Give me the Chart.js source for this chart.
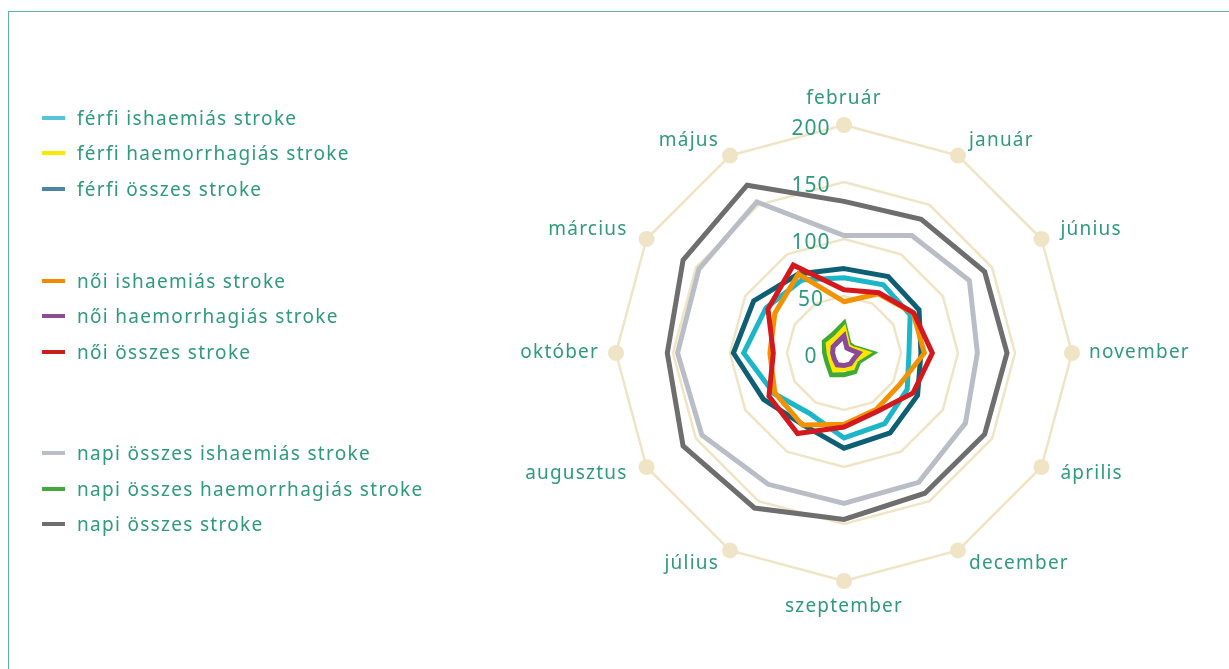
<!DOCTYPE html>
<html>
<head>
<meta charset="utf-8">
<script src="https://cdn.jsdelivr.net/npm/chart.js@4"></script>
<style>
  html, body { margin: 0; padding: 0; background: #fff; overflow: hidden; width: 1229px; height: 669px; }
  #frame { position: absolute; left: 8px; top: 11px; width: 1300px; height: 800px; border: 1.5px solid #5fb49b; }
  #chart { position: absolute; left: 0; top: 0; }
  #legend { position: absolute; left: 0; top: 0; font-family: "Noto Sans", sans-serif; font-size: 19px; letter-spacing: 1.3px; color: #2f9a7c; }
  .item { position: absolute; white-space: nowrap; line-height: 22px; }
  .item span { position: absolute; left: 0; top: 9px; width: 23px; height: 4px; }
  .item b { font-weight: normal; position: absolute; left: 35px; top: 0; }
</style>
</head>
<body>
<div id="frame"></div>
<canvas id="chart" width="1229" height="669"></canvas>
<div id="legend"></div>
<script>
const months = ['február', 'január', 'június', 'november', 'április', 'december',
    'szeptember', 'július', 'augusztus', 'október', 'március', 'május'];

const ferfiIsch = [66, 69, 67, 57, 64, 71.5, 74.5, 61, 71, 88, 79, 74];
const ferfiHaem = [21, 7, 8, 20, 12, 15, 14, 17, 13, 13, 16, 15];
const ferfiOssz = [74, 77.5, 76, 67.5, 74.5, 81, 83.5, 72.5, 81.5, 97, 91.5, 80];
const noiIsch = [45, 60, 70, 70.5, 56, 57, 62.5, 73, 70, 65, 70, 80];
const noiHaem = [15, 5, 6, 13, 10, 11, 11, 12, 10, 10, 11, 11];
const noiOssz = [55.5, 61, 70.5, 77.5, 70, 59, 65, 81.5, 76, 62, 77, 89];
const napiIsch = [103, 119, 127, 117, 123, 131, 132, 133, 144, 146, 147, 153];
const napiHaem = [26, 9, 10, 25, 15, 19, 19, 22, 17, 17, 20, 19];
const napiOssz = [133, 135.5, 142.5, 143, 142.5, 142, 146, 157, 163, 155, 163, 170];

const outerRing = months.map(() => 200);
const tickValues = [0, 50, 100, 150, 200];

const textColor = '#2f9a7c';
const gridColor = '#f0e4c6';

// sorozatok: címke, vonal szín, jelmagyarázat szín, rajzolási sorrend
const series = [
    { label: 'férfi ishaemiás stroke', data: ferfiIsch, color: '#1bb6c8', legend: '#58c4da', order: 4, y: 118 },
    { label: 'férfi haemorrhagiás stroke', data: ferfiHaem, color: '#ffe600', legend: '#fbe900', order: 7, y: 153 },
    { label: 'férfi összes stroke', data: ferfiOssz, color: '#0d5f74', legend: '#4b87a1', order: 3, y: 189 },
    { label: 'női ishaemiás stroke', data: noiIsch, color: '#f39200', legend: '#f08a00', order: 1, y: 281 },
    { label: 'női haemorrhagiás stroke', data: noiHaem, color: '#8b4a96', legend: '#8b4d94', order: 6, y: 316 },
    { label: 'női összes stroke', data: noiOssz, color: '#d3191d', legend: '#c81e1e', order: 0, y: 352 },
    { label: 'napi összes ishaemiás stroke', data: napiIsch, color: '#b9bec6', legend: '#b9bfc7', order: 5, y: 453 },
    { label: 'napi összes haemorrhagiás stroke', data: napiHaem, color: '#3fa935', legend: '#44a83a', order: 8, y: 489 },
    { label: 'napi összes stroke', data: napiOssz, color: '#6e6e6e', legend: '#6f6f6f', order: 2, y: 524 }
];

const datasets = series.map(s => ({
    label: s.label,
    data: s.data,
    borderColor: s.color,
    backgroundColor: 'transparent',
    borderWidth: 5,
    borderJoinStyle: 'miter',
    pointRadius: 0,
    fill: false,
    order: s.order
}));

// a külső kör pontjai
datasets.push({
    label: 'ring',
    data: outerRing,
    borderWidth: 0,
    showLine: false,
    pointRadius: 8,
    pointBackgroundColor: gridColor,
    pointBorderWidth: 0,
    fill: false,
    order: 20
});

// tengely feliratok a középvonaltól kissé balra, hónapnevek a pontok mellett
const labelsPlugin = {
    id: 'radarTexts',
    afterDatasetsDraw(chart) {
        const r = chart.scales.r;
        const ctx = chart.ctx;
        ctx.save();
        ctx.fillStyle = textColor;
        ctx.letterSpacing = '1px';
        ctx.font = '21px "Noto Sans"';
        ctx.textAlign = 'center';
        ctx.textBaseline = 'middle';
        tickValues.forEach(v => {
            const d = r.getDistanceFromCenterForValue(v);
            ctx.fillText(String(v), r.xCenter - 33, r.yCenter - d + 4);
        });

        ctx.letterSpacing = '1.2px';
        ctx.font = '19px "Noto Sans"';
        const R = r.drawingArea;
        months.forEach((m, i) => {
            const a = r.getIndexAngle(i);
            const s = Math.sin(a), c = Math.cos(a);
            let x, y;
            if (Math.abs(s) < 0.01) {
                ctx.textAlign = 'center';
                x = r.xCenter;
                y = r.yCenter - (R + 26) * c;
            } else if (Math.abs(c) < 0.01) {
                ctx.textAlign = s > 0 ? 'left' : 'right';
                x = r.xCenter + (R + 17) * s;
                y = r.yCenter;
            } else {
                ctx.textAlign = s > 0 ? 'left' : 'right';
                x = r.xCenter + (R + 22) * s;
                y = r.yCenter - (R + 16) * c - 1;
            }
            ctx.fillText(m, x, y);
        });
        ctx.restore();
    }
};

const ctx = document.getElementById('chart').getContext('2d');
const chart = new Chart(ctx, {
    type: 'radar',
    data: { labels: months, datasets: datasets },
    options: {
        responsive: false,
        animation: false,
        layout: { padding: { left: 616, right: 157, top: 125, bottom: 88 } },
        plugins: { legend: { display: false }, tooltip: { enabled: false } },
        elements: { line: { tension: 0 } },
        scales: {
            r: {
                min: 0,
                max: 200,
                ticks: { display: false, stepSize: 50 },
                angleLines: { display: false },
                grid: { color: gridColor, lineWidth: 2.5 },
                pointLabels: { display: false }
            }
        }
    },
    plugins: [labelsPlugin]
});

// jelmagyarázat
const legendEl = document.getElementById('legend');
series.forEach(s => {
    const div = document.createElement('div');
    div.className = 'item';
    div.style.left = '42px';
    div.style.top = (s.y - 11) + 'px';
    div.innerHTML = '<span style="background:' + s.legend + '"></span><b>' + s.label + '</b>';
    legendEl.appendChild(div);
});
</script>
</body>
</html>
